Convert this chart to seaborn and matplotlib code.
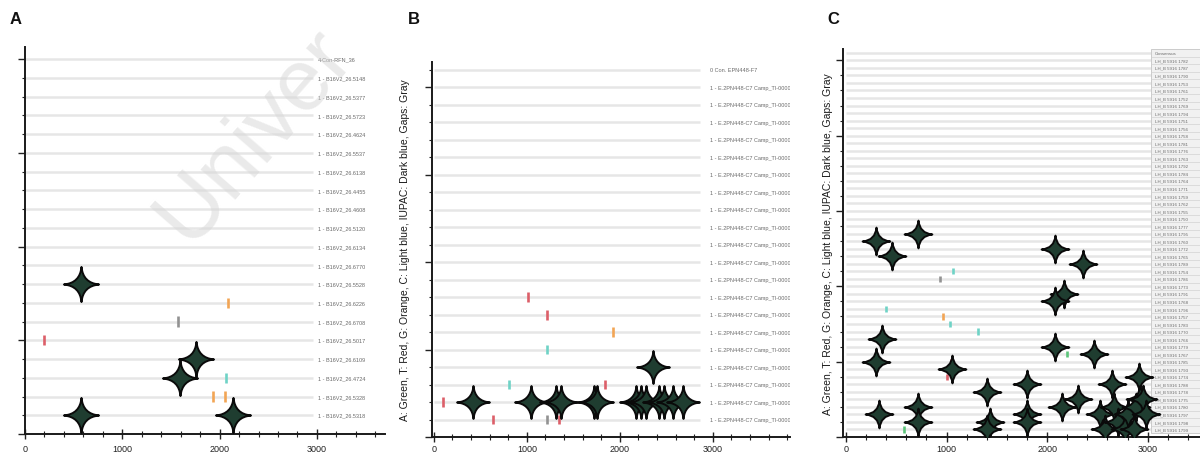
import numpy as np
import pandas as pd
import matplotlib
matplotlib.use("Agg")
import matplotlib.pyplot as plt
from matplotlib.path import Path
from matplotlib.markers import MarkerStyle
from matplotlib.patches import Rectangle
from matplotlib.ticker import MultipleLocator
import seaborn as sns

sns.set_theme(style="ticks")
plt.rcParams["font.family"] = ["Liberation Sans", "DejaVu Sans"]

# ---------------------------------------------------------------- data
BASE_COLORS = {"A": "#5cc47a", "T": "#dc5f69", "G": "#f2a555", "C": "#6fd3c6",
               "IUPAC": "#34468f", "Gap": "#929292"}
Y_LABEL = "A: Green, T: Red, G: Orange, C: Light blue, IUPAC: Dark blue, Gaps: Gray"

# Panel A -- sequence names (top to bottom)
a_labels = ["4-Con-RFN_36", "1 - B16V2_26.5148", "1 - B16V2_26.5377", "1 - B16V2_26.5723",
            "1 - B16V2_26.4624", "1 - B16V2_26.5537", "1 - B16V2_26.6138", "1 - B16V2_26.4455",
            "1 - B16V2_26.4608", "1 - B16V2_26.5120", "1 - B16V2_26.6134", "1 - B16V2_26.6770",
            "1 - B16V2_26.5528", "1 - B16V2_26.6226", "1 - B16V2_26.6708", "1 - B16V2_26.5017",
            "1 - B16V2_26.6109", "1 - B16V2_26.4724", "1 - B16V2_26.5328", "1 - B16V2_26.5318"]
a_star_pos = [575, 575, 1757, 1593, 2138]
a_star_row = [8, 1, 4, 3, 1]
a_mut_pos = [2090, 1569, 199, 2066, 1929, 2059]
a_mut_row = [7, 6, 5, 3, 2, 2]
a_mut_base = ["G", "Gap", "T", "C", "G", "G"]

# Panel B
b_labels = ["0 Con. EPN448-F7"] + [
    "1 - E.2PN448-C7 Camp_TI-000071", "1 - E.2PN448-C7 Camp_TI-000072",
    "1 - E.2PN448-C7 Camp_TI-000073", "1 - E.2PN448-C7 Camp_TI-000074",
    "1 - E.2PN448-C7 Camp_TI-000075", "1 - E.2PN448-C7 Camp_TI-000076",
    "1 - E.2PN448-C7 Camp_TI-000077", "1 - E.2PN448-C7 Camp_TI-000078",
    "1 - E.2PN448-C7 Camp_TI-000079", "1 - E.2PN448-C7 Camp_TI-000080",
    "1 - E.2PN448-C7 Camp_TI-000081", "1 - E.2PN448-C7 Camp_TI-000082",
    "1 - E.2PN448-C7 Camp_TI-000083", "1 - E.2PN448-C7 Camp_TI-000084",
    "1 - E.2PN448-C7 Camp_TI-000085", "1 - E.2PN448-C7 Camp_TI-000086",
    "1 - E.2PN448-C7 Camp_TI-000087", "1 - E.2PN448-C7 Camp_TI-000088",
    "1 - E.2PN448-C7 Camp_TI-000089", "1 - E.2PN448-C7 Camp_TI-000090"]
b_star_pos = [421, 1045, 1313, 1367, 1722, 1754, 2174, 2227, 2281, 2421, 2475, 2571, 2679, 2356]
b_star_row = [2, 2, 2, 2, 2, 2, 2, 2, 2, 2, 2, 2, 2, 4]
b_mut_pos = [98, 636, 808, 1012, 1217, 1217, 1926, 1840, 1217, 1345]
b_mut_row = [2, 1, 3, 8, 7, 5, 6, 3, 1, 1]
b_mut_base = ["T", "T", "C", "T", "T", "C", "G", "T", "Gap", "T"]

# Panel C
c_labels = ["Consensus",
            "LH_B 5916 1782", "LH_B 5916 1787", "LH_B 5916 1790", "LH_B 5916 1753",
            "LH_B 5916 1761", "LH_B 5916 1752", "LH_B 5916 1769", "LH_B 5916 1794",
            "LH_B 5916 1751", "LH_B 5916 1756", "LH_B 5916 1758", "LH_B 5916 1781",
            "LH_B 5916 1776", "LH_B 5916 1763", "LH_B 5916 1792", "LH_B 5916 1784",
            "LH_B 5916 1764", "LH_B 5916 1771", "LH_B 5916 1759", "LH_B 5916 1762",
            "LH_B 5916 1755", "LH_B 5916 1750", "LH_B 5916 1777", "LH_B 5916 1795",
            "LH_B 5916 1760", "LH_B 5916 1772", "LH_B 5916 1765", "LH_B 5916 1789",
            "LH_B 5916 1754", "LH_B 5916 1786", "LH_B 5916 1773", "LH_B 5916 1791",
            "LH_B 5916 1768", "LH_B 5916 1796", "LH_B 5916 1757", "LH_B 5916 1783",
            "LH_B 5916 1770", "LH_B 5916 1766", "LH_B 5916 1779", "LH_B 5916 1767",
            "LH_B 5916 1785", "LH_B 5916 1793", "LH_B 5916 1774", "LH_B 5916 1788",
            "LH_B 5916 1778", "LH_B 5916 1775", "LH_B 5916 1780", "LH_B 5916 1797",
            "LH_B 5916 1798", "LH_B 5916 1799"]
c_star_pos = [300, 711, 455, 2080, 2355, 2172, 2080, 355, 2080, 2470, 298, 1052,
              1804, 2643, 2910, 1400, 2302, 2925, 332, 711, 711, 2146, 1804, 1804,
              1433, 1400, 2530, 2580, 2660, 2700, 2770, 2800, 2860, 2880, 2950, 2980]
c_star_row = [26, 27, 24, 25, 23, 19, 18, 13, 12, 11, 10, 9,
              7, 7, 8, 6, 5, 5, 3, 4, 2, 4, 3, 2,
              2, 1, 3, 1, 4, 2, 1, 3, 1, 4, 5, 3]
c_mut_pos = [1062, 930, 398, 969, 1035, 1316, 2197, 1040, 1000, 575]
c_mut_row = [22, 21, 17, 16, 15, 14, 11, 10, 8, 1]
c_mut_base = ["C", "Gap", "C", "G", "C", "C", "A", "T", "T", "A"]


# ---------------------------------------------------------------- marker
def sparkle(inner=0.12):
    """Four-pointed star with concave sides."""
    verts, codes = [], []
    for i in range(4):
        a = np.pi / 2 + i * np.pi / 2
        tip = (np.cos(a), np.sin(a))
        if i == 0:
            verts.append(tip)
            codes.append(Path.MOVETO)
        b = a + np.pi / 2
        ctrl_a = a + np.pi / 4
        verts += [(inner * np.cos(ctrl_a), inner * np.sin(ctrl_a)), (np.cos(b), np.sin(b))]
        codes += [Path.CURVE3, Path.CURVE3]
    verts.append((0, 0))
    codes.append(Path.CLOSEPOLY)
    return MarkerStyle(Path(verts, codes))


STAR = sparkle()

W, H = 1200, 456
fig = plt.figure(figsize=(W / 100, H / 100), dpi=100)


def rect(left, top, right, bottom):
    return [left / W, 1 - bottom / H, (right - left) / W, (bottom - top) / H]


def panel(ax, labels, star_pos, star_row, mut_pos, mut_row, mut_base, xlim, ytop,
          line_end, label_x, label_size, star_size, mut_size, major_y, minor_y,
          table=False, xpad=4):
    n = len(labels)
    rows = np.arange(n, 0, -1)
    ax.hlines(rows, 0, line_end, color="#e6e6e6", lw=1.8, zorder=1)
    if table:
        ax.add_patch(Rectangle((label_x - 40, 0.5), 900, n, facecolor="#f1f1f1",
                               edgecolor="#c4c4c4", lw=0.6, zorder=1))
        ax.hlines(rows[:-1] - 0.5, label_x - 40, label_x + 900, color="#d2d2d2", lw=0.5, zorder=1)
    for r, lab in zip(rows, labels):
        ax.text(label_x, r, lab, fontsize=label_size, va="center", ha="left",
                color="#6a6a6a", clip_on=True, zorder=2)

    muts = pd.DataFrame({"pos": mut_pos, "row": mut_row, "base": mut_base})
    sns.scatterplot(data=muts, x="pos", y="row", hue="base", palette=BASE_COLORS,
                    marker="|", s=mut_size, linewidth=1.9, legend=False, ax=ax, zorder=3)

    stars = pd.DataFrame({"pos": star_pos, "row": star_row})
    sns.scatterplot(data=stars, x="pos", y="row", marker=STAR, s=star_size,
                    color="#1f3d30", edgecolor="#0a0a0a", linewidth=1.4,
                    legend=False, ax=ax, zorder=4)

    ax.set_xlim(*xlim)
    ax.set_ylim(0, ytop)
    ax.set_xlabel("")
    ax.set_ylabel("")
    ax.xaxis.set_major_locator(MultipleLocator(1000))
    ax.xaxis.set_minor_locator(MultipleLocator(200))
    ax.yaxis.set_major_locator(MultipleLocator(major_y))
    ax.yaxis.set_minor_locator(MultipleLocator(minor_y))
    ax.tick_params(axis="x", which="major", direction="inout", length=7, width=1.0,
                   colors="#222222", labelsize=6.5, pad=xpad)
    ax.tick_params(axis="x", which="minor", direction="inout", length=4, width=0.8,
                   colors="#222222")
    ax.tick_params(axis="y", which="major", direction="out", length=5, width=1.0,
                   colors="#222222", labelleft=False)
    ax.tick_params(axis="y", which="minor", direction="out", length=2.5, width=0.8,
                   colors="#222222")
    for side in ("top", "right"):
        ax.spines[side].set_visible(False)
    for side in ("left", "bottom"):
        ax.spines[side].set_linewidth(1.4)
        ax.spines[side].set_color("#1a1a1a")
    ax.patch.set_alpha(0)


ax_a = fig.add_axes(rect(25, 48, 385, 435))
panel(ax_a, a_labels, a_star_pos, a_star_row, a_mut_pos, a_mut_row, a_mut_base,
      (0, 3700), 20.65, 2960, 3010, 4.0, 640, 55, 5, 1, xpad=3.5)

ax_b = fig.add_axes(rect(432, 63, 790, 438))
panel(ax_b, b_labels, b_star_pos, b_star_row, b_mut_pos, b_mut_row, b_mut_base,
      (-20, 3830), 21.45, 2860, 2970, 4.0, 560, 50, 5, 1, xpad=1.5)
ax_b.set_ylabel(Y_LABEL, fontsize=7.5, color="#1a1a1a")
ax_b.yaxis.set_label_coords(-0.061, 0.5)

ax_c = fig.add_axes(rect(843, 50, 1200, 438))
panel(ax_c, c_labels, c_star_pos, c_star_row, c_mut_pos, c_mut_row, c_mut_base,
      (-30, 3520), 51.5, 3030, 3070, 3.2, 400, 20, 10, 2, table=True, xpad=1.5)
ax_c.set_ylabel(Y_LABEL, fontsize=7.5, color="#1a1a1a")
ax_c.yaxis.set_label_coords(-0.028, 0.5)

for letter, xpx in (("A", 10), ("B", 408), ("C", 827)):
    fig.text(xpx / W, 1 - 20 / H, letter, fontsize=12, fontweight="bold",
             va="center", ha="left", color="#111111")

# faint diagonal watermark
fig.text(188 / W, 1 - 246 / H, "Univer", rotation=49, rotation_mode="anchor",
         ha="left", va="baseline", fontsize=63, color="#d6d6d6", alpha=0.5, zorder=10)

fig.savefig("out.png", dpi=100, facecolor="white")
